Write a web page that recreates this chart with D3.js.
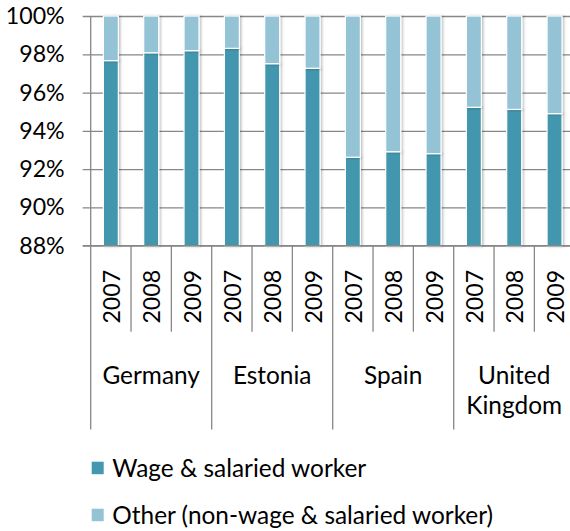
<!DOCTYPE html>
<html>
<head>
<meta charset="utf-8">
<script src="https://cdn.jsdelivr.net/npm/d3@7"></script>
<style>
  html, body { margin: 0; padding: 0; background: #fff; }
  svg { display: block; font-family: Lato, "Open Sans", sans-serif; }
</style>
</head>
<body>
<svg id="chart" width="570" height="531"></svg>
<script>
const countries = ["Germany", "Estonia", "Spain", "United Kingdom"];
const years = ["2007", "2008", "2009"];
const wage = [97.67, 98.08, 98.19, 98.31, 97.51, 97.27, 92.62, 92.91, 92.81, 95.23, 95.12, 94.90];
const other = [2.33, 1.92, 1.81, 1.69, 2.49, 2.73, 7.38, 7.09, 7.19, 4.77, 4.88, 5.10];
const yTicks = [88, 90, 92, 94, 96, 98, 100];
const seriesNames = ["Wage & salaried worker", "Other (non-wage & salaried worker)"];
const colors = ["#4397AE", "#93C3D5"];

const svg = d3.select("#chart");
const keys = [];
countries.forEach(c => years.forEach(y => keys.push(c + "|" + y)));

const x = d3.scaleBand().domain(keys).range([90.7, 574.7]).padding(0);
const y = d3.scaleLinear().domain([88, 100]).range([245.7, 16]);
const fsNum = 23.2;
const fsTxt = 24.4;

// drop shadow
const defs = svg.append("defs");
const f = defs.append("filter").attr("id", "sh").attr("x", "-30%").attr("y", "-5%").attr("width", "170%").attr("height", "110%");
f.append("feDropShadow").attr("dx", 1.5).attr("dy", 0.5).attr("stdDeviation", 1.2).attr("flood-color", "#000").attr("flood-opacity", 0.25);

// gridlines + y ticks
const yAxis = d3.axisLeft(y).tickValues(yTicks).tickFormat(d => d + "%").tickSize(-(574.7 - 90.7)).tickSizeOuter(0).tickPadding(0);
const gy = svg.append("g").attr("transform", "translate(90.7,0)").call(yAxis);
gy.select(".domain").remove();
gy.selectAll(".tick line").attr("x1", -8).attr("stroke", "#878787").attr("stroke-width", 1.3);
gy.selectAll(".tick text").attr("x", -26).attr("font-size", fsNum).attr("fill", "#000").attr("font-family", "Lato");

// y axis line
svg.append("line").attr("x1", 90.7).attr("x2", 90.7).attr("y1", 16).attr("y2", 245.7).attr("stroke", "#878787").attr("stroke-width", 1.3);

// bars
const stackData = keys.map((k, i) => ({ key: k, wage: wage[i], other: other[i] }));
const series = d3.stack().keys(["wage", "other"])(stackData);
const bw = 15;
const barsG = svg.append("g");
series.forEach((s, si) => {
  barsG.append("g").attr("filter", "url(#sh)").selectAll("rect").data(s).join("rect")
    .attr("x", d => x(d.data.key) + x.bandwidth() / 2 - bw / 2)
    .attr("width", bw)
    .attr("y", d => y(d[1]))
    .attr("height", d => y(Math.max(d[0], 88)) - y(d[1]))
    .attr("fill", colors[si])
    .attr("stroke", "#fff")
    .attr("stroke-width", 1.2);
});

// x axis line
svg.append("line").attr("x1", 82.7).attr("x2", 574.7).attr("y1", 245.7).attr("y2", 245.7).attr("stroke", "#878787").attr("stroke-width", 1.3);

// separators below axis
const bounds = keys.map((k, i) => ({ xv: x(k), group: i % 3 === 0 }));
bounds.push({ xv: x(keys[keys.length - 1]) + x.bandwidth(), group: true });
svg.append("g").selectAll("line").data(bounds).join("line")
  .attr("x1", d => d.xv).attr("x2", d => d.xv)
  .attr("y1", 245.7).attr("y2", d => d.group ? 429.5 : 331.7)
  .attr("stroke", "#878787").attr("stroke-width", 1.3);

// year labels
svg.append("g").selectAll("text").data(keys).join("text")
  .attr("transform", d => `translate(${x(d) + x.bandwidth() / 2 + 1},296.7) rotate(-90)`)
  .attr("text-anchor", "middle").attr("dy", "0.35em")
  .attr("font-size", fsNum).attr("fill", "#000")
  .text(d => d.split("|")[1]);

// country labels
const groupW = x.bandwidth() * 3;
countries.forEach((c, i) => {
  const cx = 90.7 + groupW * i + groupW / 2;
  const words = c === "United Kingdom" ? ["United", "Kingdom"] : [c];
  words.forEach((w, j) => {
    svg.append("text").attr("x", cx).attr("y", 375 + j * 30).attr("dy", "0.35em")
      .attr("text-anchor", "middle").attr("font-size", fsTxt).attr("fill", "#000").text(w);
  });
});

// legend
const legend = svg.append("g");
seriesNames.forEach((n, i) => {
  const ly = 468 + i * 47;
  legend.append("rect").attr("x", 91.7).attr("y", ly - 6.3).attr("width", 12).attr("height", 12.5).attr("fill", colors[i]);
  legend.append("text").attr("x", 112.3).attr("y", ly).attr("dy", "0.35em").attr("font-size", fsTxt).attr("fill", "#000").text(n);
});
</script>
</body>
</html>
